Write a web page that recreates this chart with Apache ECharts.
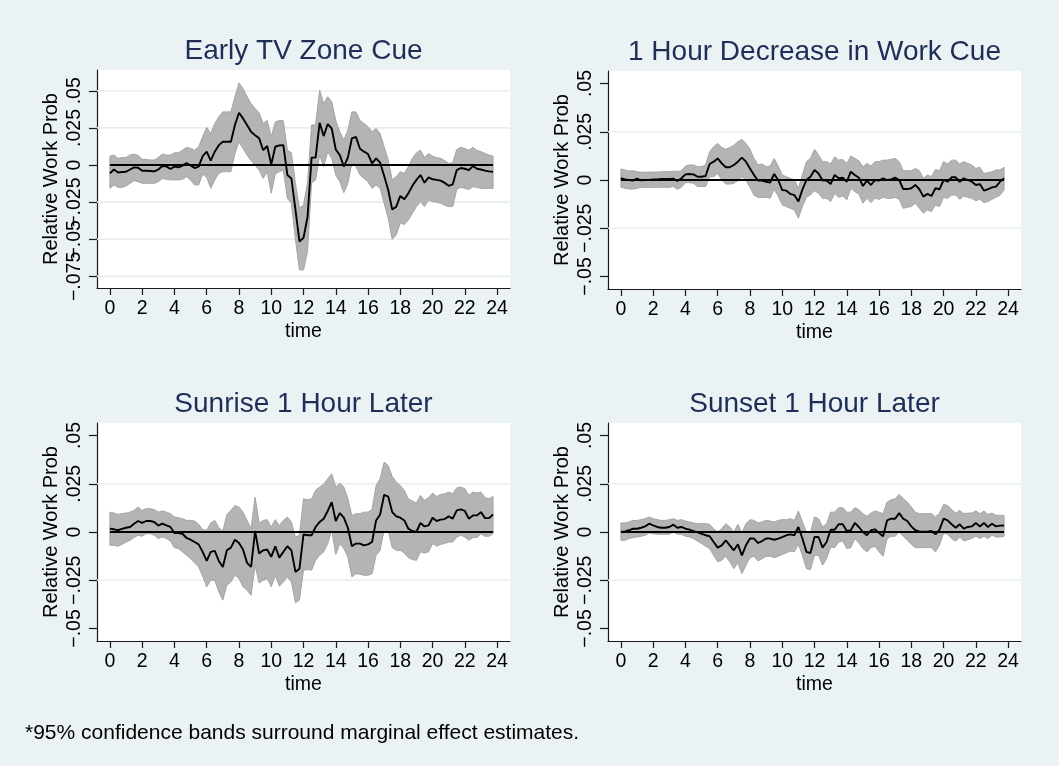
<!DOCTYPE html>
<html>
<head>
<meta charset="utf-8">
<script src="https://cdn.jsdelivr.net/npm/echarts@6/dist/echarts.min.js"></script>
<style>
html,body{margin:0;padding:0;background:#eaf2f3;}
#chart{width:1059px;height:766px;}
</style>
</head>
<body>
<div id="chart"></div>
<script>
// ---------------- data ----------------
const times = [0,0.25,0.5,0.75,1,1.25,1.5,1.75,2,2.25,2.5,2.75,3,3.25,3.5,3.75,4,4.25,4.5,4.75,5,5.25,5.5,5.75,6,6.25,6.5,6.75,7,7.25,7.5,7.75,8,8.25,8.5,8.75,9,9.25,9.5,9.75,10,10.25,10.5,10.75,11,11.25,11.5,11.75,12,12.25,12.5,12.75,13,13.25,13.5,13.75,14,14.25,14.5,14.75,15,15.25,15.5,15.75,16,16.25,16.5,16.75,17,17.25,17.5,17.75,18,18.25,18.5,18.75,19,19.25,19.5,19.75,20,20.25,20.5,20.75,21,21.25,21.5,21.75,22,22.25,22.5,22.75,23,23.25,23.5,23.75];

const panelTitles = ["Early TV Zone Cue","1 Hour Decrease in Work Cue","Sunrise 1 Hour Later","Sunset 1 Hour Later"];
const xTickValues = [0,2,4,6,8,10,12,14,16,18,20,22,24];
const yTickValuesTV = [-0.075,-0.05,-0.025,0,0.025,0.05];
const yTickLabelsTV = ["\u2212.075","\u2212.05","\u2212.025","0",".025",".05"];
const yTickValues = [-0.05,-0.025,0,0.025,0.05];
const yTickLabels = ["\u2212.05","\u2212.025","0",".025",".05"];
const yGridTV = [-0.075,-0.05,-0.025,0.025,0.05];
const yGrid = [-0.025,0.025];
const footnote = "*95% confidence bands surround marginal effect estimates.";

// Early TV Zone Cue
const estTV = [-0.0056,-0.003,-0.005,-0.0047,-0.0045,-0.003,-0.0016,-0.0018,-0.0038,-0.0038,-0.004,-0.0043,-0.003,-0.0007,-0.0009,-0.0027,-0.0011,-0.0016,-0.0004,0.0013,-0.0002,-0.002,-0.0011,0.006,0.009,0.003,0.009,0.0134,0.0157,0.0157,0.0157,0.027,0.0352,0.0314,0.027,0.0224,0.020,0.018,0.010,0.0128,0.0004,0.0123,0.0132,0.0134,-0.0067,-0.009,-0.030,-0.0516,-0.049,-0.035,0.005,0.005,0.0284,0.0195,0.0276,0.0246,0.0105,0.0067,-0.001,0.005,0.018,0.019,0.011,0.009,0.0074,0.0011,0.0045,0.0016,-0.0074,-0.0168,-0.030,-0.028,-0.0208,-0.023,-0.019,-0.014,-0.010,-0.0067,-0.0119,-0.0083,-0.0096,-0.010,-0.0105,-0.012,-0.014,-0.013,-0.0034,-0.002,-0.0025,-0.0034,-0.0007,-0.0025,-0.003,-0.0038,-0.0043,-0.0045];
const hiTV = [0.006,0.0067,0.0045,0.005,0.005,0.0067,0.0074,0.0065,0.0038,0.0038,0.0034,0.0034,0.005,0.0074,0.0067,0.0067,0.0083,0.0083,0.010,0.0119,0.0112,0.010,0.0123,0.019,0.0253,0.0213,0.028,0.0325,0.0358,0.0358,0.0358,0.046,0.0553,0.0515,0.046,0.0414,0.038,0.0352,0.028,0.030,0.019,0.029,0.030,0.0298,0.010,0.0083,-0.0123,-0.029,-0.027,-0.012,0.027,0.027,0.0504,0.0414,0.046,0.0426,0.030,0.0224,0.0168,0.0235,0.0358,0.0358,0.030,0.028,0.0258,0.0224,0.0246,0.0213,0.0123,0.0034,-0.010,-0.0078,-0.0045,-0.0056,-0.001,0.0045,0.0083,0.010,0.005,0.0078,0.006,0.005,0.0045,0.003,0.0011,0.0016,0.0105,0.0119,0.0112,0.010,0.0119,0.010,0.009,0.0078,0.0067,0.006];
const loTV = [-0.0157,-0.0134,-0.015,-0.015,-0.0141,-0.0123,-0.0105,-0.0112,-0.0123,-0.0123,-0.0123,-0.0123,-0.0112,-0.009,-0.0096,-0.010,-0.010,-0.010,-0.0096,-0.0078,-0.010,-0.0134,-0.0134,-0.006,-0.0083,-0.0157,-0.010,-0.0056,-0.0045,-0.0045,-0.0045,0.0078,0.0157,0.0112,0.0067,0.0029,0.0,-0.0034,-0.009,-0.0045,-0.019,-0.006,-0.0045,-0.0034,-0.0224,-0.0258,-0.050,-0.0706,-0.0706,-0.058,-0.012,-0.010,0.0067,-0.001,0.009,0.0045,-0.0067,-0.0112,-0.0186,-0.0123,0.0011,-0.001,-0.0067,-0.009,-0.0112,-0.0157,-0.0134,-0.0157,-0.0258,-0.0358,-0.050,-0.047,-0.039,-0.040,-0.037,-0.0325,-0.028,-0.0246,-0.028,-0.0235,-0.0246,-0.025,-0.0258,-0.027,-0.028,-0.028,-0.0164,-0.015,-0.0157,-0.0164,-0.0146,-0.015,-0.0157,-0.0157,-0.0157,-0.0157];

// 1 Hour Decrease in Work Cue
const estWork = [0.0009,0.0003,0,-0.0003,0.0007,-0.0002,0,0,0.0003,0.0003,0.0005,0.0005,0.0005,0.0007,-0.0005,0.0009,0.0029,0.0031,0.0029,0.0017,0.0017,0.0021,0.0083,0.0095,0.0112,0.0086,0.0066,0.0066,0.0078,0.0095,0.0116,0.0095,0.006,0.0026,-0.0003,-0.0003,-0.0009,-0.0014,0.0031,0,-0.0052,-0.0055,-0.0072,-0.0078,-0.0112,-0.005,0,0.0017,0.0052,0.0034,-0.0003,-0.0003,-0.0021,0.0026,0.0009,0.0012,-0.0009,0.0043,0.0026,0.0012,-0.0031,-0.0003,-0.0026,0,-0.0003,0.0009,0,0.0003,0.0012,0,-0.0047,-0.0047,-0.0043,-0.0026,-0.0048,-0.0086,-0.0072,-0.0083,-0.0043,-0.0048,0,-0.0009,0.0014,0.0014,-0.0009,0.0009,0,-0.0009,-0.0026,-0.0021,-0.0055,-0.0048,-0.0038,-0.0034,-0.0009,0.0009];
const hiWork = [0.0057,0.0052,0.0047,0.0048,0.0043,0.004,0.004,0.0041,0.0041,0.0041,0.0043,0.0043,0.0043,0.0045,0.0045,0.0047,0.0072,0.0078,0.0078,0.0069,0.0069,0.0078,0.0147,0.0172,0.019,0.0169,0.0159,0.0169,0.018,0.0198,0.021,0.019,0.0159,0.0112,0.0078,0.0083,0.0069,0.0072,0.0112,0.0072,0.0026,0.0017,0.0009,0,-0.0043,0.0026,0.0095,0.0112,0.0159,0.013,0.0095,0.0095,0.0083,0.012,0.0103,0.0107,0.0086,0.0124,0.0112,0.010,0.0069,0.0086,0.0072,0.0095,0.0095,0.0103,0.0103,0.0107,0.0112,0.0095,0.0048,0.0048,0.0048,0.006,0.0048,0.0009,0.0026,0.0017,0.0055,0.0048,0.0095,0.0083,0.0103,0.0103,0.0083,0.0095,0.0086,0.0078,0.006,0.0066,0.0034,0.0038,0.0043,0.0052,0.0052,0.0066];
const loWork = [-0.0038,-0.0043,-0.0047,-0.0047,-0.0043,-0.0038,-0.0038,-0.0038,-0.0038,-0.0038,-0.0038,-0.0038,-0.0038,-0.0034,-0.0048,-0.0038,-0.0014,-0.0014,-0.0017,-0.0034,-0.0034,-0.0034,0.0017,0.0017,0.0034,0,-0.0021,-0.0021,-0.0017,-0.0003,0.0017,0,-0.0038,-0.0078,-0.009,-0.009,-0.009,-0.0095,-0.0048,-0.0083,-0.0129,-0.0138,-0.0147,-0.0155,-0.0198,-0.0138,-0.009,-0.0078,-0.0055,-0.0069,-0.0095,-0.0095,-0.0112,-0.0069,-0.009,-0.0083,-0.0103,-0.0043,-0.006,-0.0072,-0.012,-0.0095,-0.0117,-0.0095,-0.010,-0.009,-0.0095,-0.0095,-0.009,-0.010,-0.0147,-0.0141,-0.0138,-0.012,-0.0147,-0.0172,-0.0155,-0.0164,-0.0129,-0.0138,-0.009,-0.0095,-0.0078,-0.0078,-0.010,-0.0083,-0.009,-0.0095,-0.0107,-0.010,-0.0117,-0.0112,-0.010,-0.009,-0.0078,-0.0052];

// Sunrise 1 Hour Later
const estSunrise = [0.0017,0.0014,0.0009,0.0016,0.0022,0.0026,0.0043,0.0057,0.0047,0.0057,0.0057,0.0052,0.0033,0.0043,0.0034,0.0026,-0.0005,-0.0005,-0.0009,-0.0031,-0.004,-0.0052,-0.0064,-0.0103,-0.015,-0.0103,-0.0098,-0.015,-0.0181,-0.0095,-0.0081,-0.004,-0.0057,-0.0091,-0.016,-0.0181,0.0005,-0.0112,-0.0095,-0.0091,-0.0129,-0.0074,-0.0133,-0.0103,-0.0074,-0.0095,-0.0207,-0.019,-0.0012,-0.0017,-0.0017,0.0026,0.0052,0.0069,0.0109,0.0155,0.0057,0.0098,0.0074,0.0022,-0.0074,-0.006,-0.006,-0.0069,-0.0064,-0.0052,0.006,0.0091,0.0193,0.0184,0.0103,0.0081,0.0074,0.006,0.0017,0.0005,0,0.0047,0.0029,0.0034,0.0074,0.0057,0.0064,0.0067,0.0081,0.0069,0.0112,0.0117,0.0109,0.0069,0.0086,0.0086,0.0103,0.0072,0.0072,0.0091];
const hiSunrise = [0.0103,0.0098,0.0091,0.0095,0.0098,0.0103,0.0112,0.0129,0.0112,0.0121,0.0121,0.0116,0.0103,0.0109,0.0103,0.0095,0.0078,0.0074,0.0069,0.006,0.006,0.0057,0.004,0.0012,0.0009,0.0047,0.006,0.0022,0.0005,0.0091,0.0112,0.0138,0.0129,0.0103,0.006,0.0017,0.018,0.0047,0.006,0.0064,0.0026,0.0064,0.0034,0.006,0.0078,0.0052,-0.0026,-0.0017,0.0172,0.0167,0.0172,0.0216,0.0233,0.0247,0.0276,0.0302,0.0233,0.0253,0.0233,0.0172,0.0086,0.0095,0.0095,0.0103,0.0103,0.0116,0.0241,0.0276,0.0362,0.0345,0.0288,0.0259,0.0241,0.0216,0.0172,0.016,0.015,0.019,0.0164,0.0178,0.0202,0.0184,0.0195,0.0198,0.0207,0.0198,0.0229,0.0233,0.0224,0.019,0.0207,0.0202,0.0207,0.0178,0.0172,0.0184];
const loSunrise = [-0.0069,-0.0069,-0.0074,-0.0064,-0.0052,-0.0043,-0.0029,-0.0017,-0.0022,-0.0009,-0.0009,-0.0017,-0.0034,-0.0026,-0.0034,-0.0047,-0.0081,-0.0086,-0.0103,-0.0121,-0.0138,-0.016,-0.0181,-0.0229,-0.0284,-0.025,-0.025,-0.031,-0.0353,-0.0276,-0.0259,-0.0224,-0.0241,-0.0284,-0.0302,-0.0328,-0.0172,-0.0264,-0.025,-0.0241,-0.0284,-0.0224,-0.0281,-0.0259,-0.0233,-0.0259,-0.0367,-0.0353,-0.0198,-0.0195,-0.0198,-0.0147,-0.0121,-0.0103,-0.006,0.0009,-0.0116,-0.006,-0.0086,-0.0129,-0.0233,-0.0216,-0.0219,-0.0224,-0.0224,-0.0216,-0.0121,-0.0095,0.0012,0.0005,-0.0081,-0.0095,-0.0095,-0.0109,-0.0133,-0.0143,-0.0147,-0.0103,-0.0109,-0.0103,-0.006,-0.0074,-0.0064,-0.006,-0.0052,-0.0052,-0.0026,-0.0017,-0.0026,-0.0043,-0.0029,-0.0029,-0.0009,-0.0022,-0.0022,-0.0009];

// Sunset 1 Hour Later
const estSunset = [0,0.0003,0.0009,0.0017,0.0017,0.0022,0.0029,0.0043,0.0034,0.0026,0.0022,0.0022,0.0026,0.0038,0.0022,0.0026,0.0017,0.0012,0.0005,-0.0002,-0.0009,-0.0017,-0.0022,-0.0052,-0.0081,-0.0069,-0.0043,-0.0069,-0.0095,-0.0064,-0.0121,-0.0069,-0.0034,-0.0034,-0.0057,-0.0047,-0.0034,-0.0034,-0.004,-0.0034,-0.0026,-0.0017,-0.0012,-0.0017,0.0026,-0.0034,-0.0103,-0.0109,-0.0026,-0.0026,-0.0081,-0.0052,0.0012,0.0012,0.004,0.004,0.0005,0.0009,0.0047,0.0026,0,-0.0017,0.0009,0.0014,-0.0005,-0.0022,0.006,0.0069,0.0069,0.0098,0.0069,0.0057,0.0029,0.0009,0.0003,0.0002,0.0002,0.0005,-0.0012,0.0012,0.0069,0.006,0.004,0.0022,0.004,0.0017,0.0026,0.0029,0.0047,0.0029,0.0047,0.0026,0.0043,0.0029,0.0033,0.0034];
const hiSunset = [0.0047,0.0047,0.0052,0.006,0.006,0.0064,0.0069,0.0078,0.0069,0.0064,0.006,0.006,0.0064,0.0069,0.006,0.0064,0.0057,0.0052,0.0047,0.0043,0.0043,0.0043,0.004,0.0017,0,0.0017,0.0043,0.0026,0,0.004,-0.0005,0.0043,0.0064,0.006,0.0047,0.0052,0.006,0.0057,0.0052,0.006,0.0064,0.0064,0.0069,0.006,0.0109,0.0052,0,-0.0005,0.0078,0.0069,0.0026,0.0043,0.0103,0.0103,0.0126,0.0126,0.0103,0.0103,0.0126,0.0116,0.0095,0.0081,0.0098,0.0109,0.0103,0.0095,0.0155,0.0167,0.0172,0.0195,0.0172,0.0155,0.0129,0.0103,0.0095,0.0095,0.0095,0.0095,0.0078,0.0098,0.0143,0.0138,0.0116,0.0098,0.0112,0.0095,0.0098,0.0098,0.0109,0.0095,0.0109,0.0091,0.0098,0.0086,0.0086,0.0086];
const loSunset = [-0.0043,-0.0043,-0.0034,-0.0029,-0.0026,-0.0022,-0.0017,-0.0005,-0.0009,-0.0012,-0.0012,-0.0012,-0.0012,0,-0.0012,-0.0012,-0.0022,-0.0026,-0.0034,-0.0047,-0.006,-0.0074,-0.0086,-0.0121,-0.0155,-0.0147,-0.0126,-0.0155,-0.019,-0.016,-0.0216,-0.0172,-0.0133,-0.0126,-0.015,-0.0138,-0.0126,-0.0126,-0.0133,-0.0126,-0.0116,-0.0109,-0.0098,-0.0103,-0.0064,-0.0121,-0.019,-0.0195,-0.0121,-0.0121,-0.0172,-0.0138,-0.0078,-0.0081,-0.0052,-0.0047,-0.0086,-0.0081,-0.0034,-0.0057,-0.0086,-0.0103,-0.0081,-0.0074,-0.0103,-0.0126,-0.0034,-0.0022,-0.0022,0,-0.0022,-0.0043,-0.0064,-0.0081,-0.0081,-0.0081,-0.0081,-0.0081,-0.0103,-0.0069,-0.0005,-0.0012,-0.0034,-0.0047,-0.0026,-0.0047,-0.004,-0.0034,-0.0022,-0.0034,-0.0022,-0.0034,-0.0017,-0.0026,-0.0026,-0.0022];

// ---------------- chart ----------------
const FONT = '"Liberation Sans", Arial, Helvetica, sans-serif';
const panels = [
  {title: panelTitles[0], est: estTV, lo: loTV, hi: hiTV, yMin: -0.0828, yMax: 0.064, ticks: yTickValuesTV, labels: yTickLabelsTV, grid: yGridTV, box: {left: 97, top: 70, width: 413, height: 218}},
  {title: panelTitles[1], est: estWork, lo: loWork, hi: hiWork, yMin: -0.0565, yMax: 0.0565, ticks: yTickValues, labels: yTickLabels, grid: yGrid, box: {left: 608, top: 71, width: 413, height: 218}},
  {title: panelTitles[2], est: estSunrise, lo: loSunrise, hi: hiSunrise, yMin: -0.0565, yMax: 0.0565, ticks: yTickValues, labels: yTickLabels, grid: yGrid, box: {left: 97, top: 423, width: 413, height: 218}},
  {title: panelTitles[3], est: estSunset, lo: loSunset, hi: hiSunset, yMin: -0.0565, yMax: 0.0565, ticks: yTickValues, labels: yTickLabels, grid: yGrid, box: {left: 608, top: 423, width: 413, height: 218}}
];

const axisCol = '#1a1a1a';
const textCol = '#000';
const grids = [], xAxes = [], yAxes = [], series = [], graphics = [];

function yLabelStyle(p, values) {
  return {
    customValues: values, rotate: 90, fontSize: 19.5, fontFamily: FONT, color: textCol, margin: 12,
    showMinLabel: true, showMaxLabel: true, hideOverlap: false,
    formatter: (v) => { const k = p.ticks.findIndex(t => Math.abs(t - v) < 1e-9); return k >= 0 ? p.labels[k] : ''; }
  };
}

panels.forEach((p, i) => {
  grids.push(Object.assign({show: true, backgroundColor: '#ffffff', borderWidth: 0, containLabel: false}, p.box));
  xAxes.push({
    gridIndex: i, type: 'value', min: -0.8, max: 24.8,
    axisLine: {show: true, onZero: false, lineStyle: {color: axisCol, width: 1.2}},
    axisTick: {show: true, length: 7, customValues: xTickValues, lineStyle: {color: axisCol, width: 1.2}},
    axisLabel: {customValues: xTickValues, fontSize: 19.5, fontFamily: FONT, color: textCol, margin: 11,
                showMinLabel: true, showMaxLabel: true, hideOverlap: false},
    splitLine: {show: false},
    name: 'time', nameLocation: 'middle', nameGap: 34,
    nameTextStyle: {fontSize: 19.5, fontFamily: FONT, color: textCol}
  });
  // tick labels split over two overlaid axes so that crowded labels are all drawn (as in the original)
  const evenTicks = p.ticks.filter((t, k) => k % 2 === 0);
  const oddTicks = p.ticks.filter((t, k) => k % 2 === 1);
  const mainIdx = yAxes.length;
  yAxes.push({
    gridIndex: i, type: 'value', min: p.yMin, max: p.yMax, position: 'left',
    axisLine: {show: true, onZero: false, lineStyle: {color: axisCol, width: 1.2}},
    axisTick: {show: true, length: 8, customValues: p.ticks, lineStyle: {color: axisCol, width: 1.2}},
    axisLabel: yLabelStyle(p, evenTicks),
    splitLine: {show: false},
    name: 'Relative Work Prob', nameLocation: 'middle', nameGap: 36, nameMoveOverlap: false,
    nameTextStyle: {fontSize: 20, fontFamily: FONT, color: textCol}
  });
  yAxes.push({
    gridIndex: i, type: 'value', min: p.yMin, max: p.yMax, position: 'left', offset: 0,
    axisLine: {show: false, onZero: false},
    axisTick: {show: false},
    axisLabel: yLabelStyle(p, oddTicks),
    splitLine: {show: false}
  });

  // grid lines
  series.push({
    type: 'custom', xAxisIndex: i, yAxisIndex: mainIdx, z: 1, silent: true,
    data: p.grid.map(v => [0, v]), encode: {x: 0, y: 1},
    renderItem: (params, api) => {
      const cs = params.coordSys;
      const y = api.coord([0, api.value(1)])[1];
      return {type: 'line', shape: {x1: cs.x, y1: y, x2: cs.x + cs.width, y2: y},
              style: {stroke: '#e6eef1', lineWidth: 1.6}};
    }
  });
  // confidence band
  const bandData = times.map((t, k) => [t, p.lo[k], p.hi[k]]);
  series.push({
    type: 'custom', xAxisIndex: i, yAxisIndex: mainIdx, z: 2, silent: true,
    data: bandData, encode: {x: 0, y: [1, 2]},
    renderItem: (params, api) => {
      if (params.dataIndex !== 0) return null;
      const pts = [];
      for (let k = 0; k < bandData.length; k++) pts.push(api.coord([bandData[k][0], bandData[k][2]]));
      for (let k = bandData.length - 1; k >= 0; k--) pts.push(api.coord([bandData[k][0], bandData[k][1]]));
      return {type: 'polygon', shape: {points: pts}, style: {fill: '#b4b4b4', stroke: '#a4a4a4', lineWidth: 1}};
    }
  });
  // zero line
  series.push({
    type: 'line', xAxisIndex: i, yAxisIndex: mainIdx, z: 3, silent: true, symbol: 'none',
    data: times.map(t => [t, 0]),
    lineStyle: {color: '#000', width: 1.9}
  });
  // estimate
  series.push({
    type: 'line', xAxisIndex: i, yAxisIndex: mainIdx, z: 4, silent: true, symbol: 'none',
    data: times.map((t, k) => [t, p.est[k]]),
    lineStyle: {color: '#000', width: 1.9}
  });
  // panel title
  graphics.push({
    type: 'text', x: p.box.left + p.box.width / 2, y: p.box.top - 19,
    style: {text: p.title, font: '28px ' + FONT, fill: '#1f2d57', align: 'center', verticalAlign: 'middle'}
  });
});

graphics.push({
  type: 'text', x: 25, y: 733,
  style: {text: footnote, font: '21px ' + FONT, fill: '#000', align: 'left', verticalAlign: 'middle'}
});

const chart = echarts.init(document.getElementById('chart'), null, {renderer: 'canvas'});
chart.setOption({
  backgroundColor: '#eaf2f3',
  animation: false,
  grid: grids, xAxis: xAxes, yAxis: yAxes, series: series, graphic: graphics
});
</script>
</body>
</html>
